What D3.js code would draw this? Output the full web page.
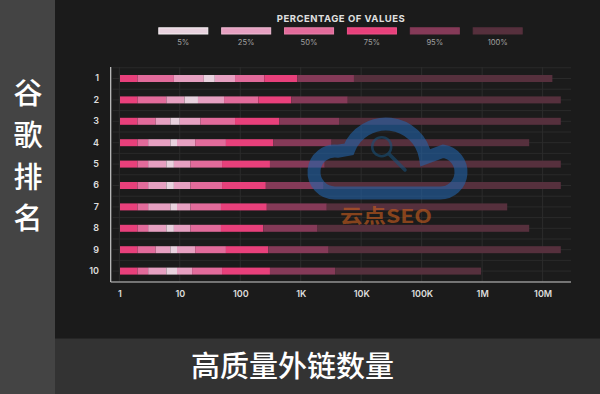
<!DOCTYPE html>
<html>
<head>
<meta charset="utf-8">
<script src="https://cdn.jsdelivr.net/npm/d3@7"></script>
<style>
html,body{margin:0;padding:0;background:#1b1b1b;}
svg{display:block;}
</style>
</head>
<body>
<svg id="chart" width="600" height="394"></svg>
<script>
// ---- data ----
const ranks = ["1","2","3","4","5","6","7","8","9","10"];
const legendLabels = ["5%","25%","50%","75%","95%","100%"];
const xTickValues = [1,10,100,1e3,1e4,1e5,1e6,1e7];
const xTickLabels = ["1","10","100","1K","10K","100K","1M","10M"];
const minVal = [1,1,1,1,1,1,1,1,1,1];
const lo50 = [2,2,2,2,2,2,2,2,2,2];
const lo25 = [8,6,4,3,3,3,3,3,4,3];
const lo5  = [25,12,7,7,6,6,7,6,7,6];
const hi5  = [38,20,10,9,8,8,9,8,9,9];
const hi25 = [82,54,22,18,15,15,15,15,18,16];
const hi50 = [250,200,82,58,50,50,48,48,58,50];
const hi75 = [880,700,440,350,310,265,275,240,290,310];
const hi95 = [7600,6000,4300,3250,2500,2400,2700,1900,2900,3700];
const maxVal = [14.5e6,20e6,20e6,6e6,20e6,20e6,2.6e6,6e6,20e6,960000];
const yTitle = "谷歌排名";
const xTitle = "高质量外链数量";
const legendTitle = "PERCENTAGE OF VALUES";
const watermarkText = "云点SEO";

// ---- styles ----
const colors = {"5%":"#e8d2de","25%":"#e6a0c1","50%":"#e26b9b","75%":"#e8407b","95%":"#853a58","100%":"#56303d"};
const strokes = {"5%":"#f6f0f3","25%":"#f0bcd3","50%":"#ea80aa","75%":"#ee5088","95%":"#853a58","100%":"#56303d"};

const svg = d3.select("#chart");
const W = 600, H = 394;
svg.append("rect").attr("width",W).attr("height",H).attr("fill","#1b1b1b");
svg.append("rect").attr("x",0).attr("y",0).attr("width",55).attr("height",H).attr("fill","#444444");
svg.append("rect").attr("x",55).attr("y",338.5).attr("width",W-55).attr("height",H-338.5).attr("fill","#333333");

const x = d3.scaleLog().domain([1,1e7]).range([119.3,542.6]);
const y = d3.scaleBand().domain(ranks).range([67.8,281.8]);
const step = y.step();
const barH = 7;
const axisLeft = 110.7, axisRight = 571, axisBottom = 282;

// gridlines
const g = svg.append("g");
const hLines = d3.range(0,21).map(k => 67.8 + k*step/2);
g.selectAll("line.h").data(hLines).enter().append("line")
  .attr("x1",axisLeft+2).attr("x2",axisRight).attr("y1",d=>d).attr("y2",d=>d)
  .attr("stroke","#2a2a2a").attr("stroke-width",1);
g.selectAll("line.v").data(xTickValues).enter().append("line")
  .attr("x1",d=>x(d)).attr("x2",d=>x(d)).attr("y1",67).attr("y2",axisBottom)
  .attr("stroke","#2c2c2c").attr("stroke-width",1);

// bars
const rows = ranks.map((r,i)=>{
  const b = [minVal[i],lo50[i],lo25[i],lo5[i],hi5[i],hi25[i],hi50[i],hi75[i],hi95[i],maxVal[i]];
  const keys = ["75%","50%","25%","5%","25%","50%","75%","95%","100%"];
  return {rank:r, segs: keys.map((k,j)=>({k, a:b[j], b:b[j+1]}))};
});
const rowG = svg.append("g").selectAll("g").data(rows).enter().append("g");
rowG.selectAll("rect").data(d=>d.segs.map(s=>Object.assign({rank:d.rank},s))).enter().append("rect")
  .attr("x",d=>x(d.a)+ (d.a===1?0.7:0))
  .attr("width",d=>Math.max(0,x(d.b)-x(d.a)-(d.a===1?0.7:0)))
  .attr("y",d=>y(d.rank)+step/2-barH/2)
  .attr("height",barH)
  .attr("fill",d=>colors[d.k]);

// axes lines
svg.append("line").attr("x1",axisLeft).attr("x2",axisLeft).attr("y1",67).attr("y2",axisBottom)
  .attr("stroke","#c8c8c8").attr("stroke-width",1.2);
svg.append("line").attr("x1",axisLeft).attr("x2",axisRight).attr("y1",axisBottom).attr("y2",axisBottom)
  .attr("stroke","#c8c8c8").attr("stroke-width",1.2);

// axis labels via d3 axes
const xAxis = d3.axisBottom(x).tickValues(xTickValues).tickFormat((d,i)=>xTickLabels[i]).tickSize(0).tickPadding(0);
const xg = svg.append("g").attr("transform",`translate(0,${axisBottom+14.5})`).call(xAxis);
xg.select(".domain").remove();
xg.selectAll("text").attr("fill","#dddddd").attr("font-family","Inter, 'DejaVu Sans', sans-serif")
  .attr("font-size",9).attr("font-weight",600).attr("dy","0");

const yAxis = d3.axisLeft(y).tickSize(0).tickPadding(0);
const yg = svg.append("g").attr("transform",`translate(99,0)`).call(yAxis);
yg.select(".domain").remove();
yg.selectAll("text").attr("fill","#dddddd").attr("font-family","Inter, 'DejaVu Sans', sans-serif")
  .attr("font-size",9).attr("font-weight",600);

// legend
svg.append("text").attr("x",340.8).attr("y",22).attr("text-anchor","middle")
  .attr("fill","#e0e0e0").attr("font-family","Inter, 'DejaVu Sans', sans-serif")
  .attr("font-size",9.5).attr("font-weight",700).attr("textLength",128).attr("lengthAdjust","spacing")
  .text(legendTitle);
const lx = d3.scalePoint().domain(legendLabels).range([183.3,497.7]);
const lg = svg.append("g").selectAll("g").data(legendLabels).enter().append("g");
lg.append("rect").attr("x",d=>lx(d)-24.5).attr("y",27.8).attr("width",49).attr("height",6.2)
  .attr("fill",d=>colors[d]).attr("stroke",d=>strokes[d]).attr("stroke-width",1);
lg.append("text").attr("x",d=>lx(d)).attr("y",45).attr("text-anchor","middle")
  .attr("fill","#a0a0a0").attr("font-family","Inter, 'DejaVu Sans', sans-serif")
  .attr("font-size",7.6).text(d=>d);

// titles
const yt = svg.append("g");
yt.selectAll("text").data(Array.from(yTitle)).enter().append("text")
  .attr("x",28).attr("y",(d,i)=>93.3+i*41.9).attr("dy","0.36em").attr("text-anchor","middle")
  .attr("fill","#ffffff").attr("font-family","'Noto Sans CJK SC', sans-serif")
  .attr("font-size",29).attr("font-weight",500).text(d=>d);
svg.append("text").attr("x",292.5).attr("y",367).attr("dy","0.36em").attr("text-anchor","middle")
  .attr("fill","#ffffff").attr("font-family","'Noto Sans CJK SC', sans-serif")
  .attr("font-size",29).attr("font-weight",500).text(xTitle);

// watermark
const wm = svg.append("g").attr("opacity",0.6);
const cloud = d3.path();
cloud.moveTo(345,193);
cloud.arc(335,172,21,Math.PI*0.5,Math.PI*1.55,false);
cloud.arc(386,164,40,Math.PI*1.12,Math.PI*1.95,false);
cloud.arc(440,172,21,Math.PI*1.55,Math.PI*2.5,false);
cloud.lineTo(345,193);
wm.append("path").attr("d",cloud.toString()).attr("fill","none")
  .attr("stroke","rgb(35,100,170)").attr("stroke-width",13).attr("stroke-linecap","round");
wm.append("circle").attr("cx",381.7).attr("cy",146.7).attr("r",9.5).attr("fill","none")
  .attr("stroke","rgb(25,80,120)").attr("stroke-width",2.5);
wm.append("line").attr("x1",389).attr("y1",154).attr("x2",405).attr("y2",170)
  .attr("stroke","rgb(25,80,120)").attr("stroke-width",3.5).attr("stroke-linecap","round");
wm.append("text").attr("x",340).attr("y",222.5).attr("fill","rgb(205,95,30)")
  .attr("font-family","'Noto Sans CJK SC', sans-serif").attr("font-weight",700)
  .attr("font-size",19).attr("textLength",92).attr("lengthAdjust","spacingAndGlyphs").text(watermarkText);
</script>
</body>
</html>
